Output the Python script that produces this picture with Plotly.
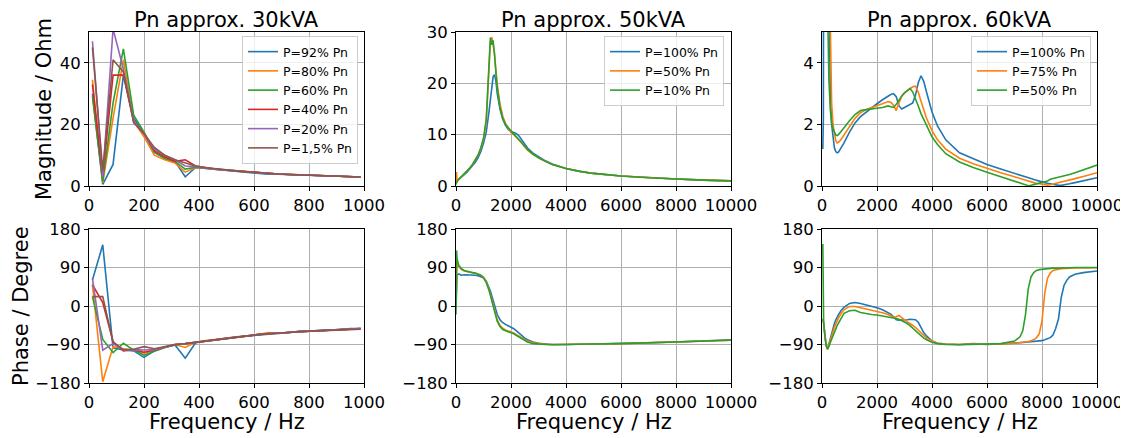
import plotly.graph_objects as go

# ---------------- data: Pn approx. 30kVA ----------------
f30 = [12.5, 50, 87.5, 125, 162.5, 200, 237.5, 275, 312.5, 350, 387.5, 425, 462.5, 500,
       537.5, 575, 612.5, 650, 687.5, 725, 762.5, 800, 837.5, 875, 912.5, 950, 987.5]
labels30 = ["P=92% Pn", "P=80% Pn", "P=60% Pn", "P=40% Pn", "P=20% Pn", "P=1,5% Pn"]

mag30_92 = [30, 0.5, 7, 36, 22, 17, 11, 9, 8, 3, 6.0, 5.7, 5.3, 5.0, 4.7, 4.4, 4.2, 3.8, 3.8, 3.7, 3.55, 3.4, 3.3, 3.2, 3.1, 3.0, 2.9]
mag30_80 = [34.5, 1, 22, 41, 21, 16, 10, 8.5, 7.5, 4.5, 6.0, 5.7, 5.4, 5.1, 4.8, 4.5, 4.3, 4.1, 3.9, 3.75, 3.6, 3.45, 3.3, 3.2, 3.1, 3.0, 2.9]
mag30_60 = [29, 1.5, 27, 44.5, 23, 17.5, 11, 9, 8, 5.5, 6.1, 5.7, 5.4, 5.1, 4.8, 4.5, 4.3, 4.1, 3.9, 3.75, 3.6, 3.45, 3.3, 3.2, 3.1, 3.0, 2.9]
mag30_40 = [33, 3, 36, 36, 21, 17, 11.5, 9.5, 8, 8.5, 6.5, 5.9, 5.5, 5.2, 4.9, 4.6, 4.3, 4.1, 3.9, 3.75, 3.6, 3.45, 3.3, 3.2, 3.1, 3.0, 2.9]
mag30_20 = [47, 3, 51, 38, 21, 17, 12, 10, 8.5, 6.5, 6.3, 5.8, 5.4, 5.1, 4.8, 4.6, 4.3, 4.1, 3.9, 3.75, 3.6, 3.45, 3.3, 3.2, 3.1, 3.0, 2.9]
mag30_1 = [45, 5, 41, 37, 20.5, 17, 12.5, 10, 8.5, 7.5, 6.5, 5.9, 5.5, 5.2, 4.9, 4.6, 4.3, 4.1, 3.9, 3.75, 3.6, 3.45, 3.3, 3.2, 3.1, 3.0, 2.9]

ph30_92 = [61, 143, -98, -103, -105, -120, -105, -97, -91, -122, -86, -82, -78, -75, -72, -70, -67, -65, -64, -62, -60, -59, -58, -56, -55, -53, -53]
ph30_80 = [50, -177, -95, -100, -103, -110, -104, -97, -90, -97, -85, -81, -78, -75, -72, -70, -67, -62, -64, -62, -60, -59, -58, -56, -55, -54, -53]
ph30_60 = [22, -78, -109, -87, -103, -115, -106, -97, -91, -88, -85, -81, -78, -75, -72, -70, -67, -65, -64, -62, -60, -59, -58, -56, -55, -54, -53]
ph30_40 = [50, 8, -83, -105, -102, -108, -103, -96, -90, -88, -85, -81, -78, -75, -72, -70, -67, -65, -64, -62, -60, -59, -58, -56, -55, -54, -53]
ph30_20 = [65, -103, -88, -103, -102, -103, -102, -96, -90, -88, -85, -81, -78, -75, -72, -70, -67, -65, -64, -62, -60, -59, -58, -56, -55, -54, -53]
ph30_1 = [22, 22, -85, -102, -101, -95, -100, -95, -90, -88, -85, -81, -78, -75, -72, -70, -67, -65, -64, -62, -60, -59, -58, -56, -55, -54, -54]

# ---------------- data: Pn approx. 50kVA ----------------
f50 = [0, 20, 40, 100, 200, 300, 400, 500, 600, 700, 800, 900, 1000, 1100, 1200, 1250, 1300,
       1350, 1400, 1450, 1500, 1600, 1700, 1800, 1900, 2000, 2100, 2200, 2300, 2400, 2500, 2600,
       2800, 3000, 3250, 3500, 4000, 4500, 5000, 6000, 7000, 8000, 9000, 10000]
labels50 = ["P=100% Pn", "P=50% Pn", "P=10% Pn"]

mag50_100 = [0.5, 0.8, 1.0, 1.3, 1.7, 2.2, 2.7, 3.3, 3.9, 4.6, 5.5, 6.7, 8.3, 10.5, 14.5, 17, 19.5,
             21.3, 21.7, 20.5, 18, 15, 13, 11.8, 11, 10.6, 10.4, 10.2, 9.7, 9.0, 8.2, 7.4,
             6.4, 5.7, 4.9, 4.3, 3.4, 2.85, 2.45, 1.95, 1.6, 1.35, 1.15, 1.0]
mag50_50 = [0.5, 2.7, 0.8, 1.3, 1.8, 2.3, 2.9, 3.5, 4.2, 5.0, 6.0, 7.3, 9.1, 12.5, 21.5, 28, 29,
            27.8, 26, 22.5, 19.8, 16, 13.6, 12.2, 11.2, 10.4, 10.0, 9.5, 8.9, 8.3, 7.6, 7.0,
            6.1, 5.5, 4.8, 4.2, 3.4, 2.85, 2.45, 1.95, 1.6, 1.35, 1.15, 1.0]
mag50_10 = [0.3, 0.6, 0.9, 1.3, 1.8, 2.3, 2.9, 3.5, 4.2, 5.0, 6.0, 7.4, 9.3, 13, 22.5, 28.9, 27.5,
            28.4, 25.5, 21.5, 19, 15.3, 13.2, 12, 11.3, 10.6, 10.1, 9.6, 9.0, 8.4, 7.7, 7.1,
            6.2, 5.5, 4.8, 4.2, 3.4, 2.85, 2.45, 1.95, 1.6, 1.35, 1.15, 1.0]

ph50_100 = [-5, 40, 72, 75, 72, 73, 73, 73, 73, 72, 71, 69, 66, 58, 44, 35, 24,
            12, 0, -10, -20, -32, -39, -43, -46, -49, -53, -58, -64, -70, -75, -79,
            -84, -87, -89, -90, -90, -89.5, -89, -87.5, -86, -84, -82, -79]
ph50_50 = [10, 95, 100, 92, 85, 82, 80, 79, 78, 77, 75, 72, 67, 57, 40, 28, 15,
           2, -10, -22, -32, -45, -52, -56, -58, -60, -63, -67, -71, -75, -79, -82,
           -86, -88, -89.5, -90, -90, -89.5, -89, -88, -86, -84, -82, -80]
ph50_10 = [-20, 130, 110, 95, 87, 83, 81, 79, 78, 77, 75, 72, 66, 55, 37, 24, 10,
           -3, -15, -27, -36, -48, -55, -58, -60, -62, -65, -69, -73, -77, -81, -84,
           -88, -89.5, -90, -90.5, -90.5, -90, -89, -88, -86, -84, -82, -80]

# ---------------- data: Pn approx. 60kVA ----------------
f60 = [30, 50, 60, 100, 150, 200, 250, 300, 350, 400,
       450, 500, 550, 600, 700, 800, 1000, 1200, 1400, 1600,
       1800, 2000, 2200, 2400, 2500, 2600, 2700, 2800, 2900, 3000,
       3100, 3200, 3300, 3400, 3500, 3600, 3700, 3800, 4000, 4200,
       4500, 5000, 5500, 6000, 6500, 7000, 7100, 7200, 7300, 7400,
       7500, 7600, 7700, 7800, 7900, 8000, 8100, 8200, 8300, 8400,
       8500, 8600, 8700, 8800, 8900, 9000, 9200, 9500, 10000]
labels60 = ["P=100% Pn", "P=75% Pn", "P=50% Pn"]

mag60_100 = [1.2, 2.2, 9, 9, 9, 9, 6.5, 3.2, 2.0, 1.5,
             1.25, 1.12, 1.08, 1.1, 1.25, 1.4, 1.75, 2.05, 2.25, 2.4,
             2.55, 2.67, 2.8, 2.92, 2.97, 3.0, 2.9, 2.6, 2.5, 2.55,
             2.6, 2.63, 2.7, 2.95, 3.35, 3.58, 3.4, 3.05, 2.4, 1.95,
             1.5, 1.08, 0.9, 0.7, 0.55, 0.42, 0.39, 0.36, 0.33, 0.3,
             0.27, 0.24, 0.21, 0.18, 0.15, 0.13, 0.11, 0.09, 0.07, 0.05,
             0.03, 0.02, 0.02, 0.03, 0.05, 0.07, 0.11, 0.17, 0.27]
mag60_75 = [9, 9, 9, 9, 9, 9, 8, 4.5, 2.7, 2.0,
            1.65, 1.48, 1.4, 1.42, 1.52, 1.65, 1.95, 2.2, 2.38, 2.48,
            2.55, 2.6, 2.67, 2.74, 2.72, 2.62, 2.45, 2.7, 2.92, 3.03,
            3.1, 3.16, 3.22, 3.24, 3.05, 2.75, 2.45, 2.2, 1.8, 1.5,
            1.2, 0.9, 0.72, 0.57, 0.43, 0.3, 0.27, 0.25, 0.22, 0.2,
            0.17, 0.14, 0.11, 0.09, 0.07, 0.05, 0.04, 0.03, 0.04, 0.06,
            0.08, 0.1, 0.12, 0.14, 0.16, 0.19, 0.24, 0.31, 0.43]
mag60_50 = [9, 9, 9, 9, 9, 6, 3.5, 2.5, 2.05, 1.85,
            1.72, 1.66, 1.64, 1.67, 1.78, 1.9, 2.12, 2.32, 2.45, 2.48,
            2.5, 2.52, 2.55, 2.6, 2.58, 2.55, 2.65, 2.8, 2.92, 3.02,
            3.1, 3.17, 3.05, 2.85, 2.6, 2.35, 2.15, 1.95, 1.6, 1.35,
            1.05, 0.78, 0.6, 0.45, 0.3, 0.17, 0.14, 0.1, 0.07, 0.04,
            0.01, 0.02, 0.04, 0.07, 0.09, 0.12, 0.14, 0.16, 0.22, 0.24,
            0.26, 0.28, 0.3, 0.32, 0.34, 0.37, 0.43, 0.52, 0.68]

ph60_100 = [-30, -35, -40, -65, -92, -101, -88, -75, -64, -52,
            -41, -33, -26, -20, -10, -3, 6, 8, 6, 3,
            0, -4, -9, -15, -19, -25, -32, -33, -33, -33,
            -32, -31, -31, -32, -38, -50, -62, -70, -82, -87,
            -89, -90, -88, -90, -89, -87, -86.5, -86, -85.5, -85,
            -84.5, -84, -83.5, -83, -82, -81, -79, -77, -74, -68,
            -52, -30, 20, 48, 60, 68, 74, 78, 82]
ph60_75 = [-30, -35, -40, -65, -92, -101, -92, -80, -70, -60,
           -50, -42, -35, -28, -17, -9, -1, -1, -4, -7,
           -10, -12, -16, -20, -23, -26, -25, -22, -27, -33,
           -37, -41, -45, -50, -56, -63, -70, -75, -82, -87,
           -89, -90, -89, -89.5, -89, -87, -86.5, -86, -85, -84,
           -83, -81, -79, -74, -65, -35, 30, 65, 77, 83,
           85, 86, 87, 87.5, 88, 88.5, 89, 89, 89.5]
ph60_50 = [145, -30, -38, -65, -92, -100, -95, -86, -77, -68,
           -60, -52, -46, -40, -28, -17, -11, -10, -15, -18,
           -20, -21, -23, -25, -26, -27, -29, -31, -34, -37,
           -41, -46, -52, -58, -63, -68, -75, -79, -85, -88,
           -90, -90.5, -90, -90, -88, -82, -78, -72, -58, -20,
           40, 68, 78, 83, 85, 86, 87, 87.5, 88, 88.5,
           88.5, 89, 89, 89, 89.5, 89.5, 90, 90, 90]

titles = ["Pn approx. 30kVA", "Pn approx. 50kVA", "Pn approx. 60kVA"]
colors = ["#1f77b4", "#ff7f0e", "#2ca02c", "#d62728", "#9467bd", "#8c564b"]

# the page body adds an 8px margin; the figure is sized/placed to compensate
OFF = 8
W, H = 1116, 428
FONT = "DejaVu Sans"


def px(x):
    return (x - OFF) / W


def py(y):
    return 1 - (y - OFF) / H


# panel pixel boxes (in window coordinates)
cols = [(89, 364), (456, 731), (822, 1097)]
rows = [(32, 186), (229, 383)]

fig = go.Figure()

panels = [
    (f30, [mag30_92, mag30_80, mag30_60, mag30_40, mag30_20, mag30_1],
          [ph30_92, ph30_80, ph30_60, ph30_40, ph30_20, ph30_1], labels30),
    (f50, [mag50_100, mag50_50, mag50_10], [ph50_100, ph50_50, ph50_10], labels50),
    (f60, [mag60_100, mag60_75, mag60_50], [ph60_100, ph60_75, ph60_50], labels60),
]
legend_names = ["legend", "legend2", "legend3"]

for c, (f, mags, phs, labs) in enumerate(panels):
    top = c + 1
    bot = c + 4
    for i, (m, lab) in enumerate(zip(mags, labs)):
        fig.add_trace(go.Scatter(
            x=f, y=m, mode="lines", name=lab,
            line=dict(color=colors[i], width=1.6),
            xaxis="x" if top == 1 else f"x{top}", yaxis="y" if top == 1 else f"y{top}",
            legend=legend_names[c], showlegend=True))
    for i, p in enumerate(phs):
        fig.add_trace(go.Scatter(
            x=f, y=p, mode="lines", name=labs[i],
            line=dict(color=colors[i], width=1.6),
            xaxis=f"x{bot}", yaxis=f"y{bot}", showlegend=False))

axis_common = dict(
    showline=True, mirror=True, linecolor="black", linewidth=1,
    ticks="outside", ticklen=4, tickcolor="black", tickwidth=1,
    showgrid=True, gridcolor="#b0b0b0", gridwidth=0.8, zeroline=False,
    automargin=False,
    tickfont=dict(family=FONT, size=16.5, color="black"),
)

xranges = [[0, 1000], [0, 10000], [0, 10000]]
xticks = [[0, 200, 400, 600, 800, 1000], [0, 2000, 4000, 6000, 8000, 10000],
          [0, 2000, 4000, 6000, 8000, 10000]]
yranges_top = [[0, 50], [0, 30], [0, 5]]
yticks_top = [[0, 20, 40], [0, 10, 20, 30], [0, 2, 4]]
ph_ticks = [-180, -90, 0, 90, 180]
ph_text = ["\u2212180", "\u221290", "0", "90", "180"]

layout_axes = {}
for c in range(3):
    x0, x1 = cols[c]
    xd = [px(x0), px(x1)]
    for r in range(2):
        idx = c + 1 + 3 * r
        y0, y1 = rows[r]
        yd = [py(y1), py(y0)]
        xn = "xaxis" if idx == 1 else f"xaxis{idx}"
        yn = "yaxis" if idx == 1 else f"yaxis{idx}"
        xa = "x" if idx == 1 else f"x{idx}"
        ya = "y" if idx == 1 else f"y{idx}"
        layout_axes[xn] = dict(axis_common, domain=xd, anchor=ya, range=xranges[c],
                               tickvals=xticks[c], ticktext=[str(v) for v in xticks[c]])
        if r == 0:
            layout_axes[yn] = dict(axis_common, domain=yd, anchor=xa, range=yranges_top[c],
                                   tickvals=yticks_top[c], ticktext=[str(v) for v in yticks_top[c]])
        else:
            layout_axes[yn] = dict(axis_common, domain=yd, anchor=xa, range=[-180, 180],
                                   tickvals=ph_ticks, ticktext=ph_text)

annotations = []
for c in range(3):
    xc = px((cols[c][0] + cols[c][1]) / 2)
    annotations.append(dict(text=titles[c], x=xc, y=py(19.5), xref="paper", yref="paper",
                            xanchor="center", yanchor="middle", showarrow=False, borderpad=0,
                            font=dict(family=FONT, size=21, color="black")))
    annotations.append(dict(text="Frequency / Hz", x=xc, y=py(422), xref="paper", yref="paper",
                            xanchor="center", yanchor="middle", showarrow=False, borderpad=0,
                            font=dict(family=FONT, size=21, color="black")))
annotations.append(dict(text="Magnitude / Ohm", x=px(44), y=py(109), xref="paper", yref="paper",
                        xanchor="center", yanchor="middle", showarrow=False, textangle=-90,
                        borderpad=0, font=dict(family=FONT, size=21, color="black")))
annotations.append(dict(text="Phase / Degree", x=px(21), y=py(306), xref="paper", yref="paper",
                        xanchor="center", yanchor="middle", showarrow=False, textangle=-90,
                        borderpad=0, font=dict(family=FONT, size=21, color="black")))

legend_common = dict(bgcolor="rgba(255,255,255,0.8)", bordercolor="#cccccc", borderwidth=1,
                     font=dict(family=FONT, size=12.5, color="black"),
                     xanchor="right", yanchor="top", xref="paper", yref="paper",
                     tracegroupgap=0, itemwidth=30)

fig.update_layout(
    width=W, height=H, margin=dict(l=0, r=0, t=0, b=0, autoexpand=False),
    paper_bgcolor="white", plot_bgcolor="white",
    font=dict(family=FONT, color="black"),
    annotations=annotations,
    legend=dict(legend_common, x=px(358), y=py(36)),
    legend2=dict(legend_common, x=px(724), y=py(36)),
    legend3=dict(legend_common, x=px(1091), y=py(36)),
    **layout_axes,
)

fig.write_html("out.html")
